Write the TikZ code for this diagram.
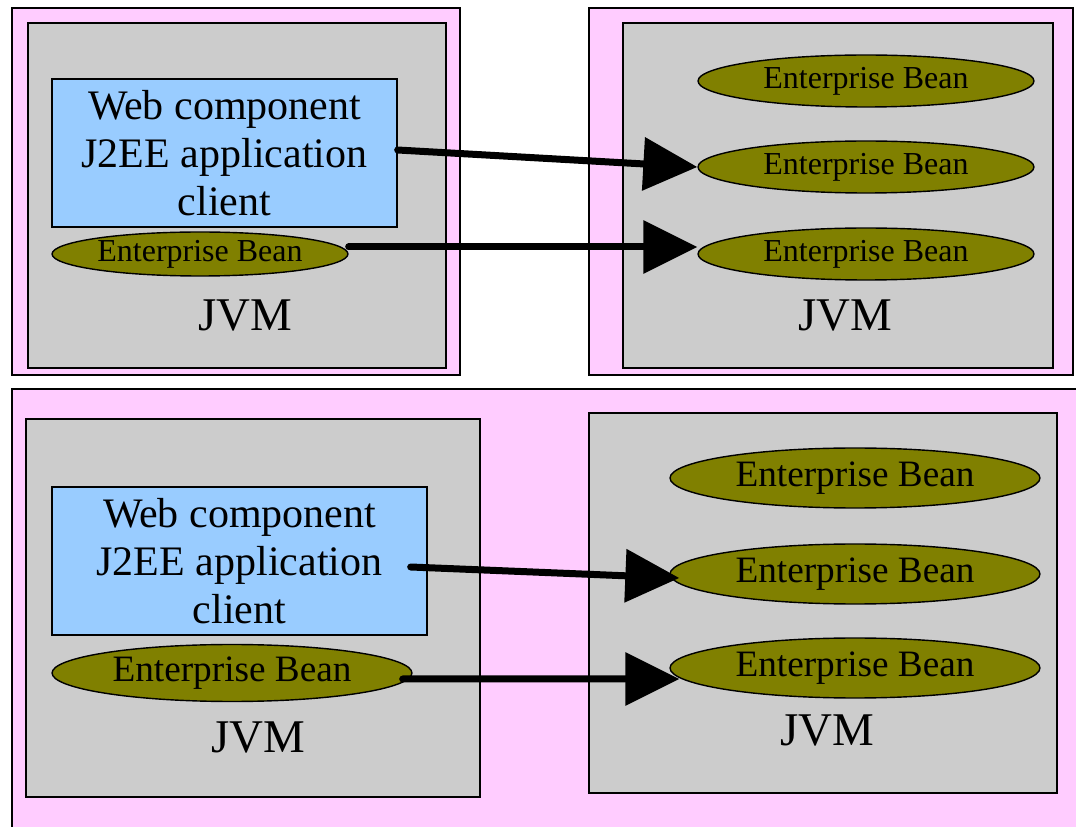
\documentclass[tikz,border=0pt]{standalone}
\usepackage{fontspec}
\setmainfont{Liberation Serif}
\usepackage{tikz}
\usetikzlibrary{shapes.geometric}
\usetikzlibrary{arrows.meta}

\definecolor{pinkbg}{HTML}{FFCCFF}
\definecolor{jvmgray}{HTML}{CCCCCC}
\definecolor{webblue}{HTML}{99CCFF}
\definecolor{beanolive}{HTML}{808000}

\tikzset{
    jvm/.style={draw=black, fill=jvmgray, line width=0.8pt, inner sep=0},
    web/.style={draw=black, fill=webblue, line width=0.8pt, align=center,
        font=\fontsize{23.9}{27.3}\selectfont, minimum height=2.96cm},
    bean/.style={ellipse, draw=black, fill=beanolive, line width=0.8pt, inner sep=0,
        font=\fontsize{18.2}{20}\selectfont, minimum width=6.72cm, minimum height=1.04cm},
    bigbean/.style={bean, font=\fontsize{21.2}{24}\selectfont, minimum width=7.4cm, minimum height=1.2cm},
    jvmlabel/.style={font=\fontsize{26.7}{30}\selectfont},
    call/.style={line width=0.14cm, line cap=round, -{Triangle[length=1.08cm,width=1.04cm]}},
}

\begin{document}
\begin{tikzpicture}[x=0.02cm,y=-0.02cm]
    \useasboundingbox (0,0) rectangle (1076,827);
    \clip (0,0) rectangle (1076,827);

    % 上半部分
    \draw[fill=pinkbg, line width=0.8pt] (12,8) rectangle (460,375);
    \draw[fill=pinkbg, line width=0.8pt] (589,8) rectangle (1073,375);
    \node[jvm, minimum width=8.36cm, minimum height=6.9cm] (jvmA) at (237,195.5) {};
    \node[jvm, minimum width=8.6cm, minimum height=6.9cm] (jvmB) at (838,195.5) {};

    \node[web, minimum width=6.9cm] (webA) at (224.5,153) {Web component\\J2EE application\\client};
    \node[bean, minimum width=5.92cm, minimum height=0.88cm] (beanA) at (200,254) {Enterprise Bean};
    \node[jvmlabel] (jvmlabA) at (245,315) {JVM};

    \node[bean] (beanB1) at (866,81) {Enterprise Bean};
    \node[bean] (beanB2) at (866,167) {Enterprise Bean};
    \node[bean] (beanB3) at (866,254) {Enterprise Bean};
    \node[jvmlabel] (jvmlabB) at (845,315) {JVM};

    \draw[call] ([yshift=0.06cm]webA.east) -- (beanB2.west);
    \draw[call] ([yshift=0.14cm]beanA.east) -- ([yshift=0.14cm]beanB3.west);

    % 下半部分
    \draw[fill=pinkbg, line width=0.8pt] (12,389) rectangle (1100,850);
    \node[jvm, minimum width=9.08cm, minimum height=7.56cm] (jvmC) at (253,608) {};
    \node[jvm, minimum width=9.36cm, minimum height=7.6cm] (jvmD) at (823,603) {};

    \node[web, minimum width=7.5cm] (webC) at (239.5,561) {Web component\\J2EE application\\client};
    \node[bigbean, minimum width=7.2cm, minimum height=1.14cm] (beanC) at (232,673) {Enterprise Bean};
    \node[jvmlabel] (jvmlabC) at (258,737) {JVM};

    \node[bigbean] (beanD1) at (855,478) {Enterprise Bean};
    \node[bigbean] (beanD2) at (855,574) {Enterprise Bean};
    \node[bigbean] (beanD3) at (855,668) {Enterprise Bean};
    \node[jvmlabel] (jvmlabD) at (827,730) {JVM};

    \draw[call] ([xshift=-0.34cm,yshift=-0.12cm]webC.east) -- ([xshift=0.2cm,yshift=-0.08cm]beanD2.west);
    \draw[call] ([xshift=-0.2cm,yshift=-0.12cm]beanC.east) -- ([xshift=0.2cm,yshift=-0.22cm]beanD3.west);
\end{tikzpicture}
\end{document}
